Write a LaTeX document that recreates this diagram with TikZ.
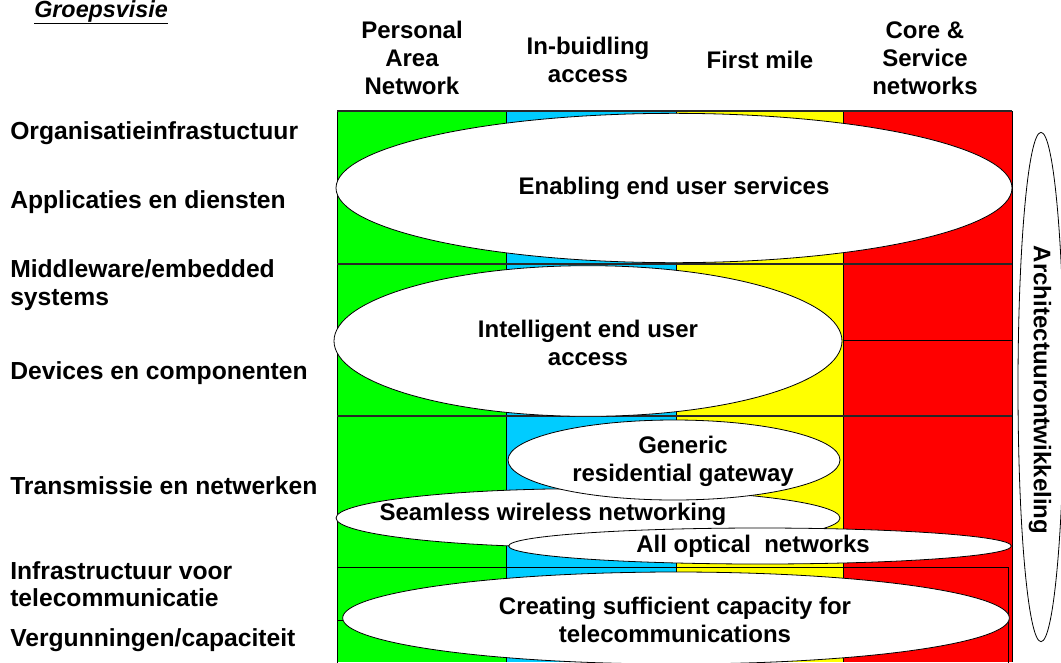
\documentclass[tikz,border=0pt]{standalone}
\usepackage{fontspec}
\setmainfont{Liberation Sans}
\usetikzlibrary{shapes.geometric}
\definecolor{cgreen}{RGB}{0,255,0}
\definecolor{cblue}{RGB}{0,204,255}
\definecolor{cyellow}{RGB}{255,255,0}
\definecolor{cred}{RGB}{255,0,0}
\definecolor{gridline}{RGB}{40,40,40}
\begin{document}
\begin{tikzpicture}[x=0.75pt,y=-0.75pt,
  lbl/.style={anchor=base west, font=\fontsize{18.5}{21}\selectfont\bfseries, inner sep=0},
  lblm/.style={anchor=west, align=left, font=\fontsize{18.5}{20.5}\selectfont\bfseries, inner sep=0},
  hdr/.style={align=center, font=\fontsize{18}{21}\selectfont\bfseries, inner sep=0},
  oval/.style={ellipse, draw=black, fill=white, inner sep=0, line width=0.6pt},
  txt/.style={align=center, font=\fontsize{18}{21}\selectfont\bfseries, inner sep=0},
  thin/.style={draw=black, line width=0.5pt},
  thick/.style={draw=gridline, line width=1.5pt},
]
\useasboundingbox (0,0) rectangle (1061,662);

% title
\node[anchor=base west, inner sep=0, font=\fontsize{17.5}{20}\selectfont\bfseries\itshape] (title) at (34,17) {\underline{Groepsvisie}};

% column headers
\node[hdr] (h1) at (412,58) {Personal\\Area\\Network};
\node[hdr] (h2) at (588,60) {In-buidling\\access};
\node[hdr] (h3) at (760,60) {First mile};
\node[hdr] (h4) at (925,58) {Core \&\\Service\\networks};

% colour columns
\fill[cgreen]  (337,111) rectangle (506,662);
\fill[cblue]   (506,111) rectangle (676,662);
\fill[cyellow] (676,111) rectangle (843,662);
\fill[cred]    (843,111) rectangle (1012,662);

% grid lines
\draw[thin] (506,111) -- (506,662) (676,111) -- (676,662) (843,111) -- (843,662);
\draw[thin] (337,111) -- (337,662) (1012,111) -- (1012,662);
\draw[thick] (337,111) -- (1012,111);
\draw[thick] (337,264) -- (1012,264);
\draw[thick] (337,416) -- (1012,416);
\draw[thin] (843,340) -- (1012,340);
\draw[thin] (337,567) rectangle (1008,670);
\draw[thin] (337,620) -- (1008,620);

% ellipses
\node[oval, minimum width=507pt, minimum height=112pt] (enab) at (674,188) {};
\node[txt] (enabt) at (enab.center) {Enabling end user services};

\node[oval, minimum width=381pt, minimum height=113pt] (intel) at (588,341) {};
\node[txt] (intelt) at (588,343) {Intelligent end user\\access};

\node[oval, minimum width=378pt, minimum height=44pt] (seam) at (588,518) {};

\node[oval, minimum width=249pt, minimum height=60pt] (gen) at (674,460) {};
\node[txt] (gent) at (683,461) {Generic\\residential gateway};

\node[txt] (seamt) at (553,514) {Seamless wireless networking};

\node[oval, minimum width=377pt, minimum height=27pt] (opt) at (760,546) {};
\node[txt] (optt) at (753,546) {All optical\ \ networks};

\node[oval, minimum width=500pt, minimum height=69pt] (cap) at (676,618) {};
\node[txt] (capt) at (675,620) {Creating sufficient capacity for\\telecommunications};

\node[oval, minimum width=34.5pt, minimum height=382pt] (arch) at (1041,387) {};
\node[txt, rotate=-90] (archt) at (1040,390) {Architectuurontwikkeling};

% row labels
\node[lbl] (r1) at (10,139) {Organisatieinfrastuctuur};
\node[lbl] (r2) at (10,208) {Applicaties en diensten};
\node[lblm] (r3) at (10,285) {Middleware/embedded\\systems};
\node[lbl] (r4) at (10,379) {Devices en componenten};
\node[lbl] (r5) at (10,494) {Transmissie en netwerken};
\node[lblm] (r6) at (10,584) {Infrastructuur voor\\telecommunicatie};
\node[lbl] (r7) at (10,646) {Vergunningen/capaciteit};
\end{tikzpicture}
\end{document}
